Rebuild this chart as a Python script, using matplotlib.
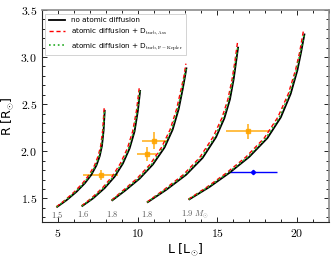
"""HR-like radius vs luminosity tracks with and without atomic diffusion."""
import numpy as np
import matplotlib
matplotlib.use("Agg")
import matplotlib.pyplot as plt
from matplotlib.ticker import MultipleLocator, FuncFormatter

plt.rcParams.update({"mathtext.fontset": "cm", "font.size": 8})

masses = ["$1.5$", "$1.6$", "$1.8$", "$1.8$", r"$1.9\ M_{\odot}$"]
mass_L = [4.95, 6.6, 8.4, 10.6, 12.7]
mass_R = 1.33

# no atomic diffusion (black)
R_noAD = [
    [1.41, 1.48, 1.57, 1.66, 1.75, 1.85, 1.95, 2.06, 2.22, 2.43],
    [1.42, 1.50, 1.61, 1.73, 1.87, 2.03, 2.21, 2.43, 2.64],
    [1.48, 1.58, 1.71, 1.86, 2.04, 2.23, 2.45, 2.66, 2.80, 2.88],
    [1.46, 1.59, 1.75, 1.93, 2.15, 2.35, 2.55, 2.76, 2.94, 3.10],
    [1.49, 1.62, 1.77, 1.94, 2.14, 2.36, 2.61, 2.86, 3.05, 3.24],
]
L_noAD = [
    [4.96, 5.54, 6.17, 6.69, 7.10, 7.42, 7.63, 7.77, 7.87, 7.94],
    [6.54, 7.21, 7.94, 8.56, 9.08, 9.50, 9.81, 10.02, 10.16],
    [8.42, 9.20, 10.13, 10.96, 11.69, 12.20, 12.58, 12.83, 12.98, 13.06],
    [10.64, 11.79, 13.04, 14.08, 14.92, 15.44, 15.79, 16.02, 16.17, 16.30],
    [13.25, 14.50, 15.75, 17.00, 18.14, 18.98, 19.60, 20.02, 20.25, 20.46],
]
# atomic diffusion + D_turb,Ass (red dashed)
R_Ass = [
    [1.41, 1.48, 1.57, 1.66, 1.75, 1.85, 1.95, 2.06, 2.22, 2.47],
    [1.42, 1.50, 1.61, 1.73, 1.87, 2.03, 2.21, 2.43, 2.68],
    [1.48, 1.58, 1.71, 1.86, 2.04, 2.23, 2.45, 2.66, 2.80, 2.93],
    [1.46, 1.59, 1.75, 1.93, 2.15, 2.35, 2.55, 2.76, 2.94, 3.15],
    [1.49, 1.62, 1.77, 1.94, 2.14, 2.36, 2.61, 2.86, 3.05, 3.29],
]
L_Ass = [
    [4.90, 5.44, 6.04, 6.55, 6.96, 7.30, 7.53, 7.69, 7.81, 7.91],
    [6.48, 7.09, 7.79, 8.40, 8.92, 9.36, 9.69, 9.93, 10.11],
    [8.36, 9.06, 9.96, 10.78, 11.50, 12.04, 12.45, 12.73, 12.91, 13.03],
    [10.58, 11.64, 12.86, 13.88, 14.73, 15.28, 15.66, 15.92, 16.09, 16.26],
    [13.18, 14.35, 15.57, 16.80, 17.94, 18.79, 19.45, 19.90, 20.16, 20.41],
]
# atomic diffusion + D_turb,F-Kepler (green dotted)
L_FK = [
    [4.93, 5.49, 6.11, 6.63, 7.04, 7.37, 7.59, 7.74, 7.85, 7.93],
    [6.51, 7.16, 7.87, 8.49, 9.01, 9.44, 9.76, 9.98, 10.14],
    [8.39, 9.14, 10.06, 10.88, 11.61, 12.13, 12.52, 12.79, 12.95, 13.05],
    [10.61, 11.72, 12.96, 13.99, 14.84, 15.37, 15.73, 15.97, 16.13, 16.28],
    [13.22, 14.43, 15.67, 16.91, 18.05, 18.89, 19.53, 19.96, 20.21, 20.44],
]

# observed stars
obs_L = [7.69, 10.58, 11.06, 16.9]
obs_R = [1.75, 1.97, 2.11, 2.21]
obs_Lerr = [1.1, 0.6, 0.8, 1.35]
obs_Rerr = [0.05, 0.07, 0.09, 0.08]
blue_L, blue_R, blue_Lerr, blue_Rerr = 17.21, 1.78, 1.56, 0.02

fig = plt.figure(figsize=(3.35, 2.62), dpi=100)
ax = fig.add_axes([0.125, 0.153, 0.857, 0.809])

for i in range(len(L_noAD)):
    ax.plot(L_noAD[i], R_noAD[i], "-", color="k", lw=1.3,
            label="no atomic diffusion" if i == 0 else None, zorder=3)
    ax.plot(L_Ass[i], R_Ass[i], "--", color="red", lw=1.0, dashes=(3, 2),
            label=r"atomic diffusion + D$_{\rm turb,Ass}$" if i == 0 else None, zorder=4)
    ax.plot(L_FK[i], R_noAD[i], ":", color="#22aa22", lw=1.2,
            label=r"atomic diffusion + D$_{\rm turb,F-Kepler}$" if i == 0 else None, zorder=5)
    ax.text(mass_L[i], mass_R, masses[i], fontsize=6, color="0.35",
            ha="left" if i == 4 else "center", va="center")

ax.errorbar(obs_L, obs_R, xerr=obs_Lerr, yerr=obs_Rerr, fmt="s", ms=2.5, color="orange",
            alpha=0.85, lw=1.2, capsize=0, zorder=2)
ax.errorbar([blue_L], [blue_R], xerr=[blue_Lerr], yerr=[blue_Rerr], fmt="D", ms=2.2, color="blue",
            lw=1.0, capsize=0, zorder=2)

ax.set_xlim(4, 22)
ax.set_ylim(1.25, 3.5)
ax.xaxis.set_major_locator(MultipleLocator(5))
ax.xaxis.set_minor_locator(MultipleLocator(1))
ax.yaxis.set_major_locator(MultipleLocator(0.5))
ax.yaxis.set_minor_locator(MultipleLocator(0.1))
ax.xaxis.set_major_formatter(FuncFormatter(lambda v, p: "$%g$" % v))
ax.yaxis.set_major_formatter(FuncFormatter(lambda v, p: "$%.1f$" % v))
ax.tick_params(which="both", direction="in", top=True, right=True, labelsize=8.5, width=0.6)
ax.tick_params(which="major", length=3.5)
ax.tick_params(which="minor", length=2)
for s in ["left", "bottom"]:
    ax.spines[s].set_color("0.15")
for s in ["top", "right"]:
    ax.spines[s].set_color("0.55")
    ax.spines[s].set_linewidth(1.2)

ax.set_xlabel(r"L [L$_{\odot}$]", fontsize=9, labelpad=1)
ax.set_ylabel(r"R [R$_{\odot}$]", fontsize=9, labelpad=3)

leg = ax.legend(loc="upper left", fontsize=5.2, handlelength=2.2, borderpad=0.5,
                labelspacing=0.5, fancybox=False, edgecolor="0.8", framealpha=1)
leg.get_frame().set_linewidth(0.6)

fig.savefig("out.png", dpi=100)
